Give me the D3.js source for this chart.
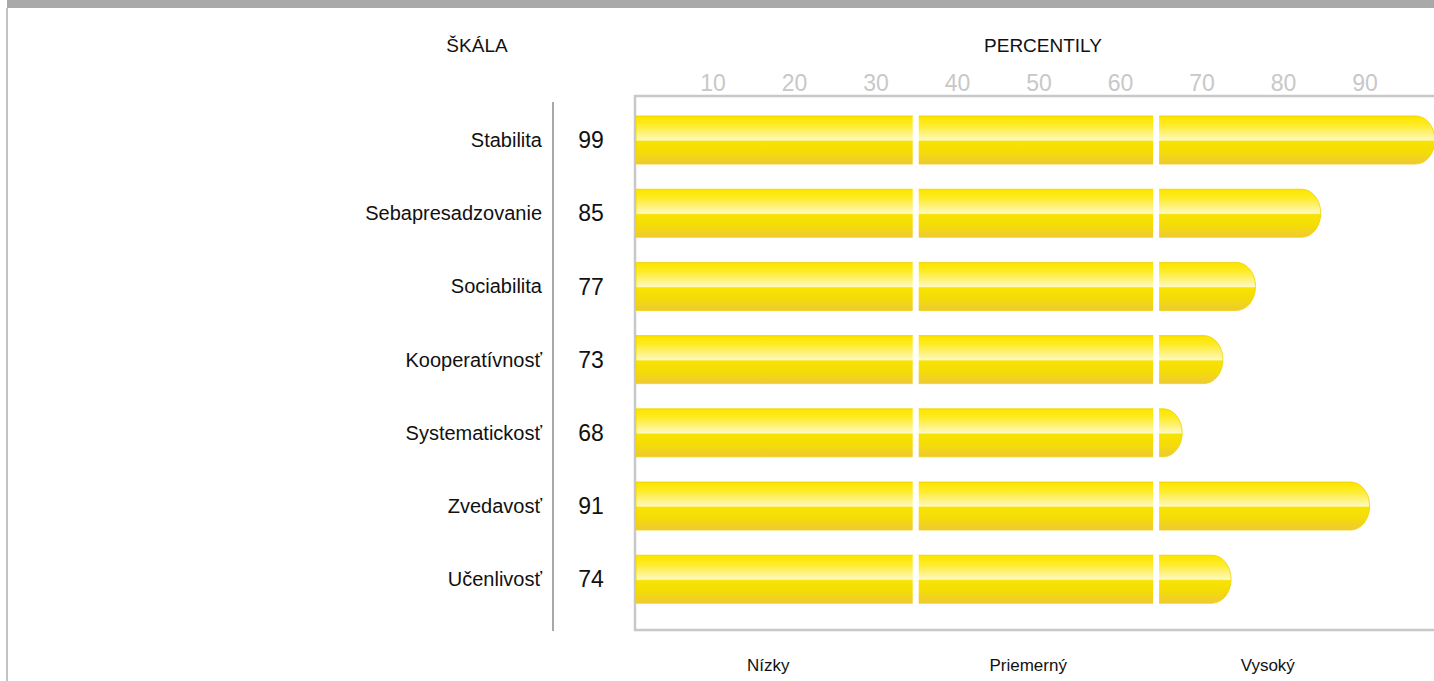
<!DOCTYPE html>
<html>
<head>
<meta charset="utf-8">
<script src="https://cdn.jsdelivr.net/npm/d3@7"></script>
<style>
  body { margin: 0; background: #fff; }
  svg { display: block; font-family: "Liberation Sans", Arial, sans-serif; }
</style>
</head>
<body>
<div id="chart"></div>
<script>
var scales = ["Stabilita", "Sebapresadzovanie", "Sociabilita", "Kooperatívnosť", "Systematickosť", "Zvedavosť", "Učenlivosť"];
var percentiles = [99, 85, 77, 73, 68, 91, 74];
var tickValues = [10, 20, 30, 40, 50, 60, 70, 80, 90];
var bandNames = ["Nízky", "Priemerný", "Vysoký"];
var bandCuts = [35.3, 64.8];
var bandNamePos = [17.2, 49.1, 78.5];

function drawChart() {
  var width = 1434, height = 681;

  var svg = d3.select("#chart")
    .append("svg")
    .attr("width", width)
    .attr("height", height);

  var defs = svg.append("defs");
  var grad = defs.append("linearGradient")
    .attr("id", "barGrad")
    .attr("x1", 0).attr("y1", 0).attr("x2", 0).attr("y2", 1);
  [[0, "#f4da00"], [0.03, "#fde600"], [0.18, "#fdeb26"], [0.36, "#fef27c"], [0.47, "#fff7ae"], [0.5, "#fffbc8"],
   [0.53, "#f8e300"], [0.75, "#f4dc08"], [1, "#efc934"]].forEach(function(s) {
    grad.append("stop").attr("offset", s[0]).attr("stop-color", s[1]);
  });

  // outer frame
  svg.append("rect").attr("x", 7).attr("y", 0).attr("width", width - 7).attr("height", 8).attr("fill", "#a9a9a9");
  svg.append("rect").attr("x", 6).attr("y", 8).attr("width", 2).attr("height", height - 8).attr("fill", "#c3c3c3");

  var x = d3.scaleLinear().domain([0, 100]).range([628, 1443]);
  var y = d3.scaleBand()
    .domain(scales)
    .range([103.4, 615.8])
    .paddingInner(0.344)
    .paddingOuter(0.172);

  // headers
  svg.append("text").attr("x", 477).attr("y", 52).attr("text-anchor", "middle")
    .attr("font-size", "19px").attr("fill", "#111").text("ŠKÁLA");
  svg.append("text").attr("x", 1043).attr("y", 52).attr("text-anchor", "middle")
    .attr("font-size", "19px").attr("fill", "#111").text("PERCENTILY");

  // percentile ticks
  var axis = svg.append("g")
    .attr("transform", "translate(3,91)")
    .call(d3.axisTop(x).tickValues(tickValues).tickSize(0).tickPadding(0));
  axis.select(".domain").remove();
  axis.selectAll("text")
    .attr("font-size", "23px")
    .attr("font-family", "\"Liberation Sans\", Arial, sans-serif")
    .attr("fill", "#c8c8c8");

  // plot frame
  svg.append("path")
    .attr("d", "M" + (width + 5) + ",96 H635 V630 H" + (width + 5))
    .attr("fill", "none")
    .attr("stroke", "#c8c8c8")
    .attr("stroke-width", 2.5);

  // divider between labels and values
  svg.append("line")
    .attr("x1", 553).attr("x2", 553).attr("y1", 102).attr("y2", 631)
    .attr("stroke", "#a8a8a8").attr("stroke-width", 2);

  var h = y.bandwidth();
  var x0 = 636;

  svg.selectAll(".label")
    .data(scales)
    .enter()
    .append("text")
    .attr("class", "label")
    .attr("x", 542)
    .attr("y", function(d) { return y(d) + h / 2; })
    .attr("dy", "0.35em")
    .attr("text-anchor", "end")
    .attr("font-size", "20px")
    .attr("fill", "#111")
    .text(function(d) { return d; });

  svg.selectAll(".value")
    .data(percentiles)
    .enter()
    .append("text")
    .attr("class", "value")
    .attr("x", 591)
    .attr("y", function(d, i) { return y(scales[i]) + h / 2; })
    .attr("dy", "0.36em")
    .attr("text-anchor", "middle")
    .attr("font-size", "23px")
    .attr("fill", "#111")
    .text(function(d) { return d; });

  var rx = 19;
  svg.selectAll(".bar")
    .data(percentiles)
    .enter()
    .append("path")
    .attr("class", "bar")
    .attr("d", function(d, i) {
      var top = y(scales[i]);
      var x1 = x(d);
      return "M" + x0 + "," + top + " H" + (x1 - rx) +
        " A" + rx + "," + (h / 2) + " 0 0 1 " + (x1 - rx) + "," + (top + h) +
        " H" + x0 + " Z";
    })
    .attr("fill", "url(#barGrad)")
    .attr("stroke", "#f0d200")
    .attr("stroke-width", 0.8);

  // white gaps between Nízky / Priemerný / Vysoký segments
  scales.forEach(function(s, i) {
    bandCuts.forEach(function(c) {
      if (percentiles[i] > c) {
        svg.append("rect")
          .attr("x", x(c) - 3)
          .attr("y", y(s) - 1)
          .attr("width", 6)
          .attr("height", h + 2)
          .attr("fill", "#fff");
      }
    });
  });

  svg.selectAll(".band-name")
    .data(bandNames)
    .enter()
    .append("text")
    .attr("class", "band-name")
    .attr("x", function(d, i) { return x(bandNamePos[i]); })
    .attr("y", 671)
    .attr("text-anchor", "middle")
    .attr("font-size", "17px")
    .attr("fill", "#111")
    .text(function(d) { return d; });
}

document.addEventListener('DOMContentLoaded', function() {
  drawChart();
});
</script>
</body>
</html>
